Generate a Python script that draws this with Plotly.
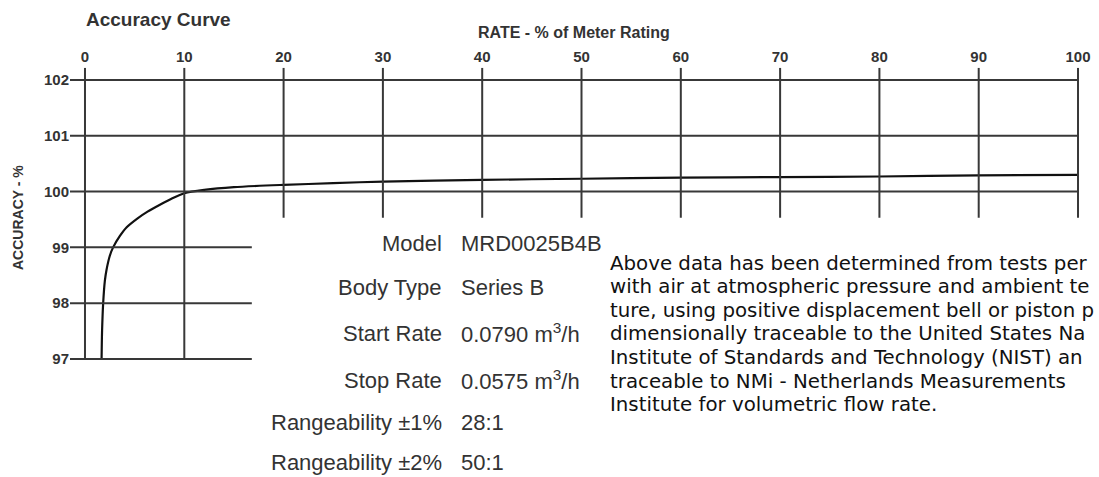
import plotly.graph_objects as go

# ---- data ----
rate_pct = [1.67, 1.72, 1.83, 2.0, 2.17, 2.5, 2.83, 3.5, 4.2, 5.3, 6.3, 7.5, 8.8, 10, 12, 15, 20, 25, 30, 40, 50, 60, 70, 80, 90, 100]
accuracy = [97.0, 97.5, 98.0, 98.4, 98.6, 98.85, 99.0, 99.2, 99.36, 99.52, 99.64, 99.76, 99.88, 99.97, 100.03, 100.08, 100.12, 100.15, 100.18, 100.21, 100.23, 100.25, 100.26, 100.27, 100.29, 100.30]
x_ticks = [0, 10, 20, 30, 40, 50, 60, 70, 80, 90, 100]
y_ticks = [97, 98, 99, 100, 101, 102]

spec_labels = ["Model", "Body Type", "Start Rate", "Stop Rate", "Rangeability ±1%", "Rangeability ±2%"]
spec_values = ["MRD0025B4B", "Series B", "0.0790 m<sup>3</sup>/h", "0.0575 m<sup>3</sup>/h", "28:1", "50:1"]
note_lines = [
    "Above data has been determined from tests per",
    "with air at atmospheric pressure and ambient te",
    "ture, using positive displacement bell or piston p",
    "dimensionally traceable to the United States Na",
    "Institute of Standards and Technology (NIST) an",
    "traceable to NMi - Netherlands Measurements",
    "Institute for volumetric flow rate.",
]

W, H = 1099, 477
GRID = "#383838"
TXT = "#333333"

fig = go.Figure()
fig.add_trace(go.Scatter(x=rate_pct, y=accuracy, mode="lines",
                         line=dict(color="#111111", width=2.2, shape="spline", smoothing=0.7),
                         hoverinfo="skip", showlegend=False))

x_lo, x_hi = -1.51, 100.2
y_lo, y_hi = 96.96, 102.22
shapes = []
for v in y_ticks:
    x_end = 100 if v >= 100 else 16.8
    shapes.append(dict(type="line", xref="x", yref="y", x0=x_lo, x1=x_end, y0=v, y1=v,
                       line=dict(color=GRID, width=2)))
for v in x_ticks:
    y_end = y_ticks[0] if v <= 10 else 99.53
    shapes.append(dict(type="line", xref="x", yref="y", x0=v, x1=v, y0=y_end, y1=y_hi,
                       line=dict(color=GRID, width=2)))

ann = []
ann.append(dict(text="<b>Accuracy Curve</b>", x=84 / W, y=1 - 19 / H, xref="paper", yref="paper",
                xanchor="left", yanchor="middle", showarrow=False,
                font=dict(family="Liberation Sans", size=19, color=TXT)))
ann.append(dict(text="<b>RATE - % of Meter Rating</b>", x=574 / W, y=1 - 32 / H, xref="paper", yref="paper",
                xanchor="center", yanchor="middle", showarrow=False,
                font=dict(family="Liberation Sans", size=16, color=TXT)))
ann.append(dict(text="<b>ACCURACY - %</b>", x=18 / W, y=1 - 218 / H, xref="paper", yref="paper",
                xanchor="center", yanchor="middle", textangle=-90, showarrow=False,
                font=dict(family="Liberation Sans", size=14, color=TXT)))

row_y = [243, 287, 333, 380, 422, 462]
for lab, val, ry in zip(spec_labels, spec_values, row_y):
    ann.append(dict(text=lab, x=444 / W, y=1 - ry / H, xref="paper", yref="paper",
                    xanchor="right", yanchor="middle", showarrow=False,
                    font=dict(family="Liberation Sans", size=22, color=TXT)))
    ann.append(dict(text=val, x=459 / W, y=1 - ry / H, xref="paper", yref="paper",
                    xanchor="left", yanchor="middle", showarrow=False,
                    font=dict(family="Liberation Sans", size=22, color=TXT)))

for i, line in enumerate(note_lines):
    ann.append(dict(text=line, x=609 / W, y=1 - (263 + i * 23.6) / H, xref="paper", yref="paper",
                    xanchor="left", yanchor="middle", showarrow=False, borderpad=0,
                    font=dict(family="DejaVu Sans", size=19.8, color="#111111")))

fig.update_layout(
    width=W, height=H, margin=dict(l=0, r=0, t=0, b=0, autoexpand=False),
    paper_bgcolor="white", plot_bgcolor="white",
    shapes=shapes, annotations=ann, showlegend=False,
    xaxis=dict(range=[x_lo, x_hi], domain=[70 / W, 1080 / W], side="top", automargin=False,
               tickvals=x_ticks, ticktext=[str(t) for t in x_ticks],
               showgrid=False, zeroline=False, showline=False, ticks="",
               ticklabelstandoff=2,
               tickfont=dict(family="Liberation Sans", size=15, color=TXT, weight="bold")),
    yaxis=dict(range=[y_lo, y_hi], domain=[(H - 361.2) / H, (H - 67.7) / H], automargin=False,
               tickvals=y_ticks, ticktext=[str(t) for t in y_ticks],
               showgrid=False, zeroline=False, showline=False, ticks="",
               tickfont=dict(family="Liberation Sans", size=15, color=TXT, weight="bold")),
)

fig.write_html("out.html", config={"displayModeBar": False},
               post_script="document.body.style.margin='0px';")
